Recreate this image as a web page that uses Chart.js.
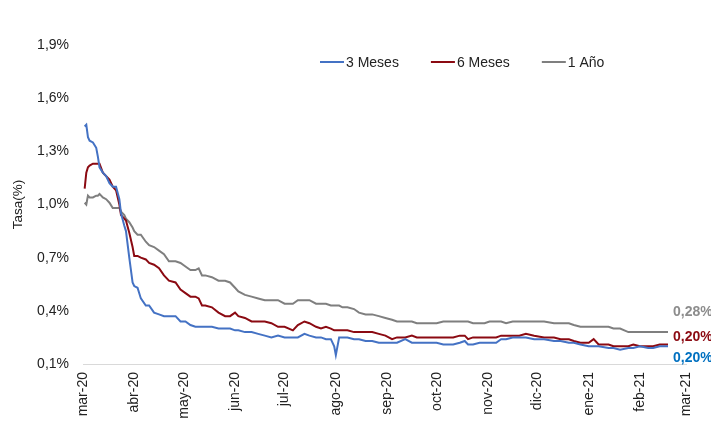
<!DOCTYPE html>
<html>
<head>
<meta charset="utf-8">
<script src="https://cdn.jsdelivr.net/npm/chart.js@4.4.1/dist/chart.umd.min.js"></script>
<style>
  body { margin: 0; background: #fff; }
  #wrap { width: 711px; height: 432px; position: relative; }
</style>
</head>
<body>
<div id="wrap"><canvas id="mycanvas"></canvas></div>
<script>
// days counted from 1 Mar 2020
var days = [1,2,3,4,6,8,9,10,12,14,16,18,20,22,23,25,26,28,30,31,33,35,38,40,43,46,49,52,56,59,
  62,65,68,70,72,74,78,82,86,89,92,94,98,102,106,110,114,118,122,127,130,134,137,141,144,147,150,152,153,155,
  157,160,164,167,171,175,179,183,187,190,195,199,202,206,210,214,218,221,224,228,231,233,236,240,243,246,250,253,256,260,
  264,268,273,279,285,289,294,297,301,306,309,312,318,321,325,330,333,337,342,345,349,354];

var meses3 = [1.44,1.45,1.38,1.36,1.35,1.32,1.27,1.21,1.18,1.16,
  1.12,1.10,1.10,1.03,0.95,0.88,0.85,0.70,0.56,0.54,
  0.53,0.47,0.43,0.43,0.39,0.38,0.37,0.37,0.37,0.34,
  0.34,0.32,0.31,0.31,0.31,0.31,0.31,0.30,0.30,0.30,
  0.29,0.29,0.28,0.28,0.27,0.26,0.25,0.26,0.25,0.25,
  0.25,0.27,0.26,0.25,0.25,0.24,0.24,0.20,0.15,0.25,
  0.25,0.25,0.24,0.24,0.23,0.23,0.22,0.22,0.22,0.22,
  0.24,0.22,0.22,0.22,0.22,0.22,0.21,0.21,0.21,0.22,
  0.23,0.21,0.21,0.22,0.22,0.22,0.22,0.24,0.24,0.25,
  0.25,0.25,0.24,0.24,0.23,0.23,0.22,0.22,0.21,0.20,
  0.20,0.20,0.19,0.19,0.18,0.19,0.19,0.20,0.19,0.19,
  0.20,0.20];

var meses6 = [1.09,1.18,1.21,1.22,1.23,1.23,1.23,1.23,1.18,1.16,
  1.14,1.10,1.08,1.00,0.94,0.92,0.91,0.84,0.76,0.71,
  0.71,0.70,0.69,0.67,0.66,0.64,0.60,0.57,0.56,0.52,
  0.50,0.48,0.48,0.47,0.43,0.43,0.42,0.39,0.37,0.37,
  0.39,0.37,0.36,0.34,0.34,0.34,0.33,0.31,0.31,0.29,
  0.32,0.34,0.33,0.31,0.30,0.31,0.30,0.29,0.29,0.29,
  0.29,0.29,0.28,0.28,0.28,0.28,0.27,0.26,0.24,0.25,
  0.25,0.26,0.25,0.25,0.25,0.25,0.25,0.25,0.25,0.26,
  0.26,0.24,0.25,0.25,0.25,0.25,0.25,0.26,0.26,0.26,
  0.26,0.27,0.26,0.25,0.25,0.24,0.24,0.23,0.22,0.22,
  0.24,0.21,0.21,0.20,0.20,0.20,0.21,0.20,0.20,0.20,
  0.21,0.21];

var anio1 = [1.01,1.00,1.05,1.04,1.04,1.05,1.05,1.06,1.04,1.03,
  1.01,0.98,0.98,0.98,0.96,0.94,0.92,0.90,0.87,0.85,
  0.83,0.83,0.79,0.77,0.76,0.74,0.72,0.68,0.68,0.67,
  0.65,0.63,0.63,0.64,0.60,0.60,0.59,0.57,0.57,0.56,
  0.53,0.51,0.49,0.48,0.47,0.46,0.46,0.46,0.44,0.44,
  0.46,0.46,0.46,0.44,0.44,0.44,0.43,0.43,0.43,0.43,
  0.42,0.42,0.41,0.39,0.38,0.38,0.37,0.36,0.35,0.34,
  0.34,0.34,0.33,0.33,0.33,0.33,0.34,0.34,0.34,0.34,
  0.34,0.34,0.33,0.33,0.33,0.34,0.34,0.34,0.33,0.34,
  0.34,0.34,0.34,0.34,0.33,0.33,0.33,0.32,0.31,0.31,
  0.31,0.31,0.31,0.30,0.30,0.28,0.28,0.28,0.28,0.28,
  0.28,0.28];

var monthDays = [0,31,61,92,122,153,184,214,245,275,306,337,365];
var monthLabels = ["mar-20","abr-20","may-20","jun-20","jul-20","ago-20","sep-20","oct-20","nov-20","dic-20","ene-21","feb-21","mar-21"];
var yTicks = [0.1,0.4,0.7,1.0,1.3,1.6,1.9];
var endLabels = ["0,20%","0,20%","0,28%"];

function pts(vals) {
  var out = [];
  for (var i in vals) out.push({x: days[i], y: vals[i]});
  return out;
}

var FONT = "'Liberation Sans', Arial, sans-serif";

var legendPlugin = {
  id: 'insideLegend',
  afterDraw: function(chart) {
    var c = chart.ctx;
    c.save();
    c.font = "14px " + FONT;
    c.textBaseline = 'middle';
    var x = 320, y = 62;
    chart.data.datasets.forEach(function(ds) {
      c.strokeStyle = ds.borderColor;
      c.lineWidth = 2;
      c.beginPath(); c.moveTo(x, y); c.lineTo(x + 24, y); c.stroke();
      c.fillStyle = '#222';
      c.fillText(ds.label, x + 26, y + 1);
      x += 26 + c.measureText(ds.label).width + 32;
    });
    c.restore();
  }
};

var endLabelPlugin = {
  id: 'endLabels',
  afterDatasetsDraw: function(chart) {
    var c = chart.ctx;
    var offs = [12, -7, -20];
    var cols = ['#0070C0', '#8B0A12', '#8C8C8C'];
    c.save();
    c.font = "bold 14px " + FONT;
    c.textBaseline = 'middle';
    chart.data.datasets.forEach(function(ds, i) {
      var meta = chart.getDatasetMeta(i);
      var p = meta.data[meta.data.length - 1];
      c.fillStyle = cols[i];
      c.fillText(endLabels[i], 673, p.y + offs[i]);
    });
    c.restore();
  }
};

var ctx = document.getElementById('mycanvas');
new Chart(ctx, {
  type: 'line',
  data: {
    datasets: [
      { label: '3 Meses', data: pts(meses3), borderColor: '#4472C4', borderWidth: 2, pointRadius: 0, tension: 0, fill: false },
      { label: '6 Meses', data: pts(meses6), borderColor: '#8B0A12', borderWidth: 2, pointRadius: 0, tension: 0, fill: false },
      { label: '1 Año', data: pts(anio1), borderColor: '#7F7F7F', borderWidth: 2, pointRadius: 0, tension: 0, fill: false }
    ]
  },
  options: {
    responsive: true,
    maintainAspectRatio: false,
    animation: false,
    devicePixelRatio: 1,
    layout: { padding: { top: 45, right: 20, left: 0, bottom: 0 } },
    plugins: { legend: { display: false }, tooltip: { enabled: false } },
    scales: {
      x: {
        type: 'linear', min: 0, max: 365,
        afterBuildTicks: function(s) { s.ticks = monthDays.map(function(v){ return {value: v}; }); },
        afterFit: function(s) { s.height = 68; },
        grid: { display: false, drawTicks: false },
        border: { display: true, color: '#D9D9D9', width: 1 },
        ticks: {
          autoSkip: false, minRotation: 90, maxRotation: 90, padding: 8,
          color: '#222', font: { family: FONT, size: 14 },
          callback: function(v) { var k = monthDays.indexOf(v); return k >= 0 ? monthLabels[k] : ''; }
        }
      },
      y: {
        min: 0.1, max: 1.9,
        afterBuildTicks: function(s) { s.ticks = yTicks.map(function(v){ return {value: v}; }); },
        afterFit: function(s) { s.width = 83; },
        grid: { display: false, drawTicks: false },
        border: { display: false },
        title: { display: true, text: 'Tasa(%)', color: '#222', font: { family: FONT, size: 13.5 }, padding: { top: 10, bottom: 0 } },
        ticks: {
          padding: 14, color: '#222', font: { family: FONT, size: 14 },
          callback: function(v) { return v.toFixed(1).replace('.', ',') + '%'; }
        }
      }
    }
  },
  plugins: [legendPlugin, endLabelPlugin]
});
</script>
</body>
</html>
